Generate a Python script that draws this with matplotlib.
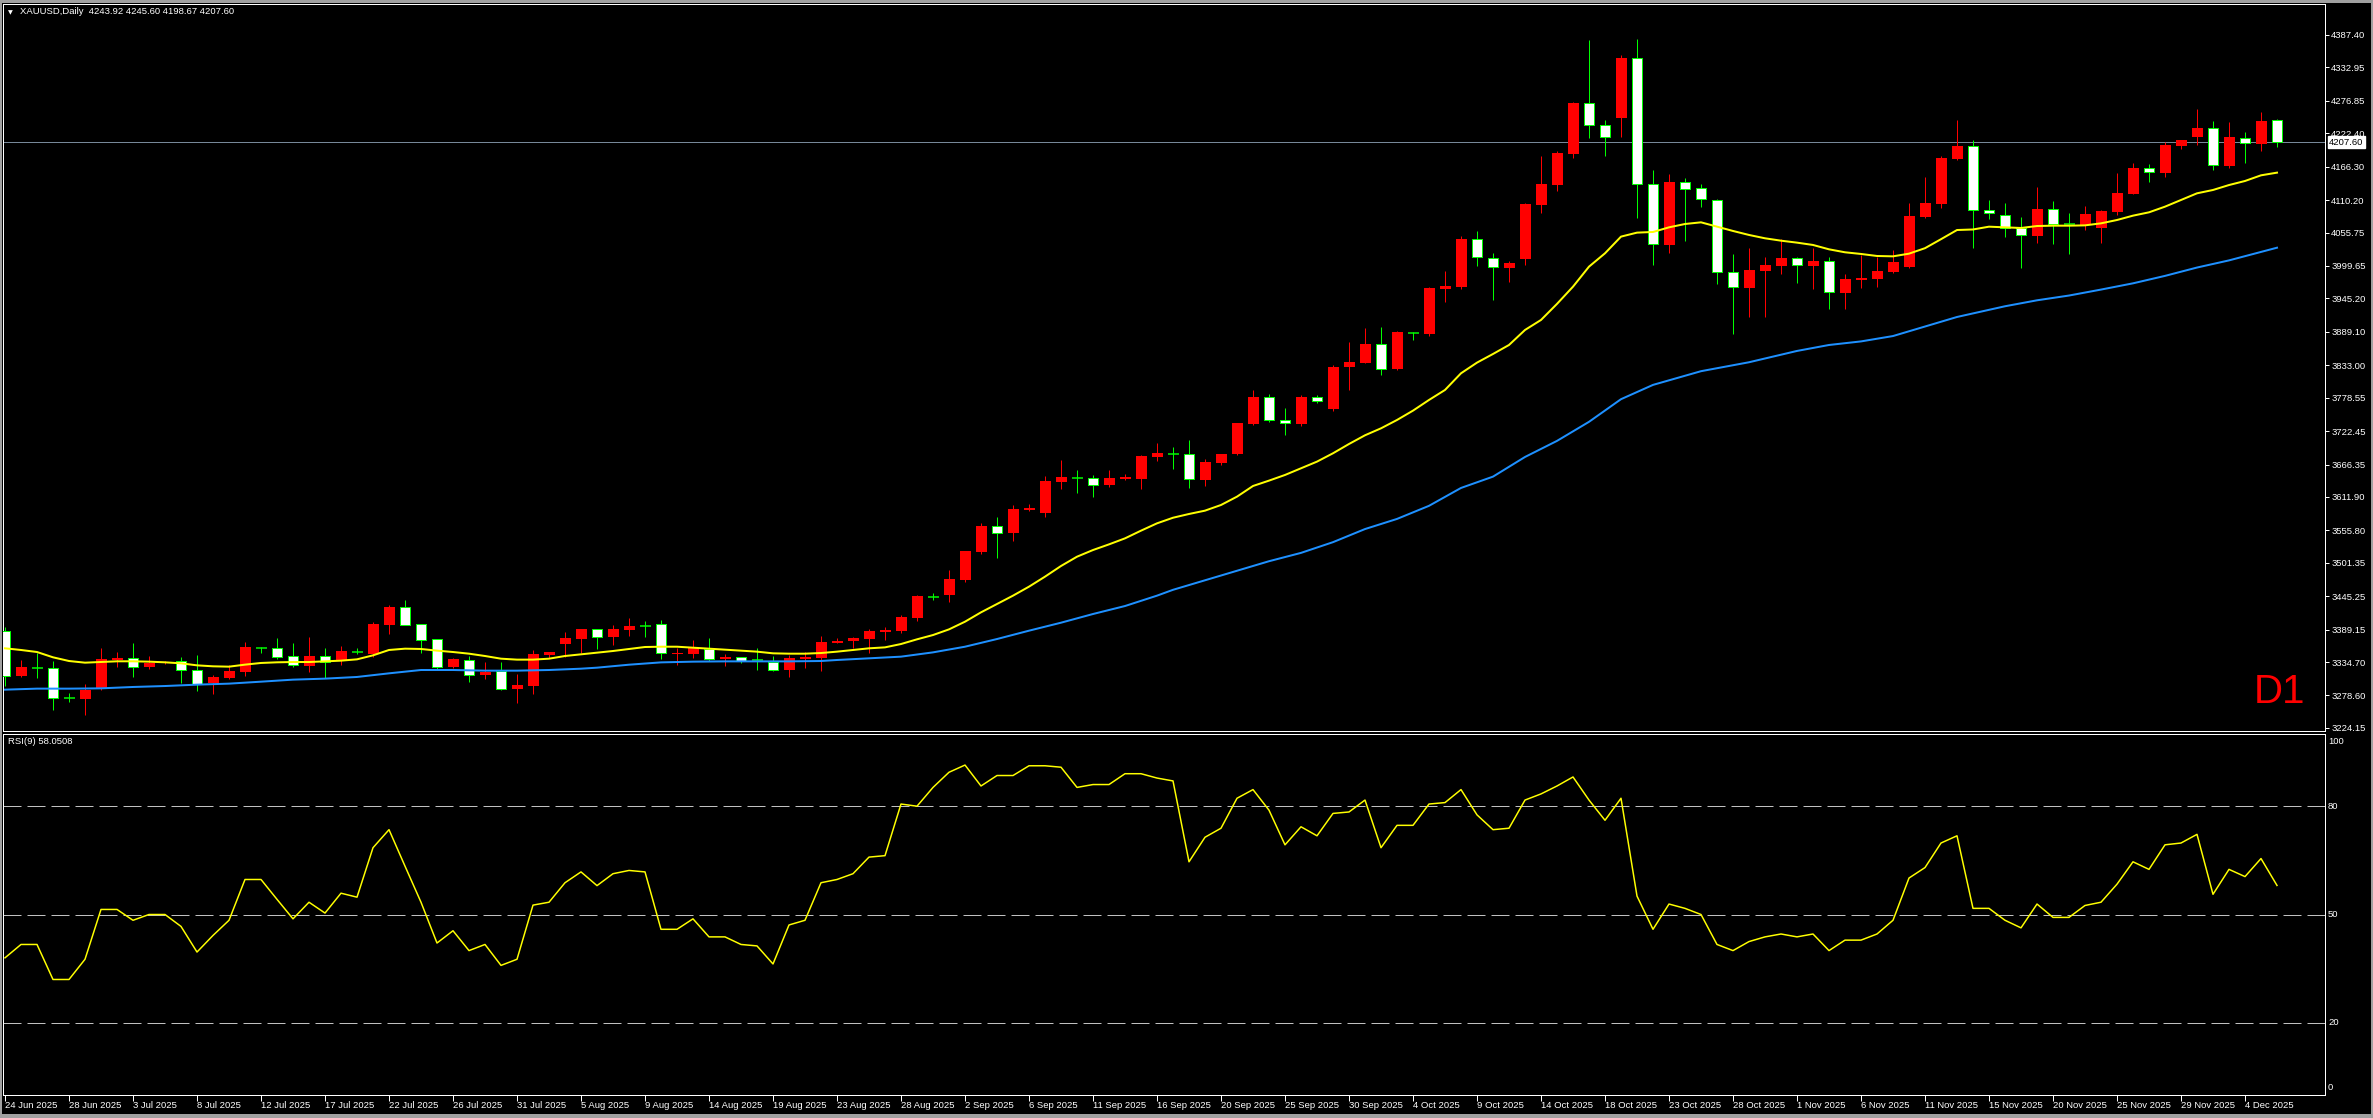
import matplotlib
matplotlib.use("Agg")
import matplotlib.pyplot as plt
from matplotlib.patches import Rectangle

plt.rcParams['font.family'] = ['Liberation Sans', 'DejaVu Sans']
plt.rcParams['lines.scale_dashes'] = False

W, H, DPI = 2373, 1118, 100


def px(v):
    return v * 72.0 / DPI


# ---------------- data ----------------
opens = [3386.9, 3311.9, 3325.3, 3324.2, 3273.8, 3273.3, 3289.0, 3338.8, 3341.0, 3327.0,
         3333.0, 3336.5, 3321.4, 3299.0, 3308.5, 3318.6, 3358.9, 3357.8, 3344.4, 3328.7,
         3344.4, 3336.5, 3352.2, 3348.8, 3397.5, 3427.2, 3398.6, 3372.9, 3325.9, 3337.6,
         3313.0, 3319.7, 3289.5, 3295.1, 3346.6, 3365.6, 3373.5, 3390.2, 3376.8, 3388.5,
         3394.7, 3398.0, 3349.0, 3348.8, 3356.6, 3340.4, 3342.6, 3338.2, 3334.2, 3321.4,
         3340.4, 3342.1, 3367.3, 3370.1, 3373.4, 3385.7, 3386.8, 3408.7, 3444.5, 3447.3,
         3472.5, 3519.5, 3562.6, 3551.4, 3590.0, 3585.0, 3637.0, 3643.7, 3643.1, 3632.0,
         3642.0, 3642.0, 3679.0, 3684.0, 3683.5, 3640.9, 3668.9, 3684.0, 3734.9, 3779.2,
         3740.6, 3734.9, 3779.2, 3760.1, 3829.5, 3837.4, 3868.1, 3826.7, 3887.2, 3886.1,
         3961.6, 3964.4, 4044.4, 4013.6, 3996.9, 4011.4, 4102.6, 4136.0, 4188.2, 4272.7,
         4235.8, 4248.6, 4348.2, 4136.7, 4035.4, 4140.1, 4130.0, 4109.9, 3989.0, 3963.2,
         3991.8, 4000.2, 4012.5, 4000.2, 4007.5, 3954.9, 3976.7, 3978.4, 3990.1, 3997.9,
         4082.4, 4104.3, 4179.2, 4200.5, 4093.0, 4084.6, 4063.9, 4050.5, 4094.7, 4069.5,
         4069.0, 4063.9, 4090.8, 4121.0, 4163.5, 4156.3, 4201.6, 4216.7, 4230.7, 4167.4,
         4215.0, 4204.9, 4243.92]
highs = [3394.2, 3338.2, 3349.4, 3336.5, 3282.2, 3297.9, 3358.3, 3351.6, 3366.7, 3344.9,
         3336.0, 3343.2, 3346.6, 3313.0, 3329.8, 3368.4, 3360.0, 3375.1, 3366.7, 3376.8,
         3358.3, 3362.3, 3358.3, 3402.5, 3431.1, 3438.9, 3399.0, 3373.5, 3341.0, 3344.9,
         3334.8, 3334.8, 3314.7, 3355.0, 3352.0, 3385.2, 3391.0, 3391.0, 3396.9, 3408.7,
         3403.6, 3405.3, 3357.8, 3371.7, 3375.1, 3347.7, 3343.0, 3358.3, 3344.9, 3346.6,
         3351.0, 3378.5, 3375.1, 3377.3, 3390.2, 3393.0, 3413.7, 3447.3, 3450.1, 3489.3,
         3522.0, 3567.6, 3578.2, 3598.4, 3600.1, 3647.1, 3673.9, 3657.1, 3648.7, 3657.1,
         3650.4, 3682.3, 3702.5, 3695.8, 3707.5, 3675.6, 3684.5, 3736.5, 3791.5, 3784.8,
         3761.3, 3783.1, 3783.1, 3833.4, 3872.6, 3895.6, 3897.2, 3890.0, 3888.0, 3964.9,
         3991.3, 4050.0, 4058.4, 4020.9, 4008.0, 4106.0, 4185.0, 4192.0, 4275.5, 4379.0,
         4244.7, 4353.8, 4380.7, 4160.8, 4154.0, 4147.4, 4137.3, 4111.5, 4019.8, 4029.8,
         4014.7, 4044.9, 4014.2, 4030.4, 4014.7, 3986.2, 4018.1, 4015.3, 4026.5, 4106.0,
         4149.3, 4184.3, 4244.7, 4211.2, 4110.4, 4104.8, 4081.8, 4132.2, 4108.7, 4088.5,
         4100.3, 4093.6, 4155.7, 4172.5, 4170.8, 4208.3, 4211.5, 4263.1, 4243.0, 4241.3,
         4224.5, 4258.1, 4245.60]
lows = [3294.5, 3309.1, 3308.5, 3254.3, 3268.2, 3245.9, 3287.8, 3327.0, 3310.2, 3323.1,
        3331.0, 3299.0, 3286.1, 3281.7, 3306.3, 3311.9, 3349.4, 3340.4, 3325.9, 3318.0,
        3307.4, 3329.8, 3348.3, 3343.8, 3382.4, 3397.0, 3350.5, 3323.1, 3325.0, 3301.8,
        3306.3, 3287.8, 3266.6, 3281.7, 3341.6, 3343.8, 3349.4, 3356.7, 3363.4, 3378.5,
        3377.3, 3339.8, 3329.8, 3341.5, 3336.5, 3328.6, 3333.7, 3321.4, 3319.7, 3309.6,
        3324.7, 3319.7, 3367.0, 3358.3, 3350.5, 3371.7, 3382.9, 3403.6, 3438.9, 3435.5,
        3469.1, 3516.1, 3510.0, 3537.9, 3588.3, 3578.2, 3625.2, 3618.5, 3611.8, 3628.6,
        3640.4, 3625.2, 3672.2, 3658.8, 3627.5, 3630.9, 3666.1, 3682.3, 3732.7, 3738.3,
        3715.9, 3731.6, 3769.7, 3756.8, 3792.0, 3837.0, 3817.2, 3825.1, 3876.0, 3882.7,
        3939.8, 3961.0, 3999.6, 3943.1, 3973.3, 4001.9, 4089.2, 4126.1, 4181.5, 4215.0,
        4184.8, 4216.7, 4080.8, 4001.9, 4022.0, 4042.1, 4099.2, 3970.0, 3884.9, 3914.6,
        3914.6, 3986.2, 3971.6, 3961.6, 3928.0, 3928.0, 3963.2, 3964.9, 3988.4, 3996.3,
        4080.2, 4097.6, 4178.1, 4030.4, 4078.5, 4048.8, 3996.8, 4038.7, 4037.0, 4020.3,
        4060.6, 4038.7, 4085.7, 4120.5, 4141.1, 4149.5, 4196.5, 4203.3, 4161.3, 4164.6,
        4173.0, 4193.2, 4198.67]
closes = [3311.9, 3326.4, 3325.3, 3273.8, 3273.8, 3287.8, 3339.9, 3341.6, 3327.0, 3332.6,
          3334.0, 3320.9, 3297.3, 3309.7, 3319.7, 3360.0, 3358.9, 3343.8, 3329.2, 3344.9,
          3335.4, 3353.3, 3352.2, 3398.6, 3427.2, 3397.5, 3372.3, 3327.0, 3339.9, 3313.6,
          3318.6, 3290.1, 3296.2, 3348.8, 3351.6, 3375.1, 3390.2, 3377.4, 3390.2, 3395.2,
          3394.7, 3349.4, 3350.0, 3358.3, 3340.4, 3343.2, 3337.1, 3338.2, 3321.9, 3341.5,
          3343.2, 3368.4, 3370.1, 3375.1, 3386.8, 3388.5, 3410.4, 3445.6, 3444.5, 3474.2,
          3521.2, 3563.1, 3551.9, 3591.7, 3593.3, 3638.7, 3645.4, 3643.7, 3632.5, 3643.7,
          3645.4, 3680.6, 3685.7, 3684.0, 3641.5, 3670.6, 3684.0, 3736.1, 3779.7, 3740.6,
          3735.5, 3779.7, 3772.4, 3830.1, 3838.5, 3868.7, 3826.2, 3888.9, 3887.2, 3962.7,
          3966.1, 4045.0, 4014.2, 3997.4, 4004.1, 4103.7, 4137.3, 4188.8, 4273.3, 4235.8,
          4215.6, 4348.8, 4136.7, 4036.0, 4140.6, 4128.3, 4111.5, 3989.0, 3963.8, 3992.9,
          4001.3, 4013.1, 4000.7, 4008.0, 3955.4, 3977.8, 3979.5, 3991.2, 4006.4, 4083.6,
          4105.1, 4180.9, 4201.1, 4093.0, 4089.1, 4062.8, 4051.1, 4095.3, 4069.5, 4069.5,
          4086.9, 4091.9, 4122.1, 4164.1, 4156.8, 4202.7, 4211.1, 4230.7, 4168.6, 4216.1,
          4205.5, 4243.0, 4207.60]

ma_fast = [3357.8, 3355.0, 3351.6, 3342.7, 3336.5, 3333.7, 3334.8, 3336.0, 3336.0, 3335.4,
           3334.3, 3332.6, 3329.2, 3327.6, 3327.0, 3330.4, 3333.2, 3334.3, 3334.8, 3334.8,
           3336.0, 3337.1, 3339.3, 3346.0, 3355.0, 3357.2, 3356.7, 3353.9, 3351.6, 3348.8,
           3344.9, 3340.4, 3338.8, 3338.8, 3340.4, 3344.9, 3347.7, 3350.5,
           3353.3, 3356.6, 3360.0, 3360.5, 3360.5, 3358.9, 3357.2, 3355.5, 3353.8, 3352.2,
           3349.4, 3348.8, 3348.8, 3349.9, 3352.2, 3355.0, 3357.8, 3359.4, 3365.0, 3372.9,
           3380.1, 3389.6, 3402.5, 3418.2, 3432.2, 3446.2, 3461.3, 3478.1, 3496.0, 3511.6,
           3522.8, 3532.3, 3542.4, 3555.3, 3567.6, 3577.0,
           3583.3, 3588.9, 3598.4, 3612.4, 3630.3, 3639.3, 3648.8, 3660.0, 3671.2, 3685.2,
           3700.8, 3715.4, 3727.1, 3741.1, 3756.8, 3774.7, 3791.5, 3819.5, 3837.4, 3851.9,
           3867.0, 3892.2, 3909.0, 3936.0,
           3964.9, 3998.5, 4020.9, 4048.9, 4055.6, 4056.7, 4064.5, 4070.1, 4072.9, 4065.7,
           4058.4, 4051.7, 4046.1, 4042.1, 4038.8, 4034.9, 4027.6, 4022.6, 4019.8, 4016.4,
           4015.8, 4020.3, 4029.5, 4044.6, 4060.0, 4060.9,
           4065.6, 4064.5, 4063.4, 4066.7, 4067.3, 4067.3, 4067.8, 4071.2, 4076.8, 4084.1,
           4089.7, 4099.2, 4110.4, 4121.6, 4127.2, 4135.5, 4142.3, 4151.8, 4156.3]

ma_slow_bar = [0, 2, 4, 6, 8, 10, 12, 14, 16, 18, 20, 22, 24, 26, 28, 30, 32, 34, 36, 37,
               39, 41, 43, 45, 47, 49, 51, 52, 54, 56, 58, 60, 62, 64, 66, 68, 70, 72, 73,
               79, 81, 83, 85, 87, 89, 91, 93, 95, 97, 99, 101, 103, 106, 109, 112, 114,
               116, 118, 120, 122, 125, 127, 129, 131, 133, 135, 137, 139, 142]
ma_slow_val = [3288.4, 3290.1, 3290.1, 3290.6, 3292.9, 3294.5, 3296.8, 3298.5, 3301.8,
               3305.2, 3306.9, 3309.7, 3315.8, 3321.4, 3321.4, 3320.3, 3320.3, 3321.4,
               3323.6, 3325.3, 3330.3, 3334.2, 3335.4, 3335.9, 3335.9, 3335.9, 3336.5,
               3338.2, 3341.0, 3343.8, 3351.0, 3360.5, 3373.4, 3387.4, 3400.8, 3415.4,
               3428.8, 3446.2, 3456.0, 3504.0, 3518.0, 3536.0, 3558.0, 3575.0, 3597.0,
               3627.0, 3646.0, 3679.0, 3706.0, 3738.0, 3776.0, 3800.0, 3823.0, 3838.0,
               3857.0, 3867.0, 3873.0, 3882.0, 3898.0, 3914.0, 3932.0, 3942.0, 3950.0,
               3960.0, 3970.5, 3983.0, 3997.0, 4009.0, 4030.3]

rsi = [38.0, 41.7, 41.7, 32.0, 32.0, 37.6, 51.4, 51.4, 48.4, 50.0,
       50.0, 46.7, 39.6, 44.2, 48.4, 59.7, 59.7, 54.2, 48.8, 53.4,
       50.4, 55.9, 54.8, 68.5, 73.5, 63.4, 53.4, 42.1, 45.5, 40.0,
       41.7, 35.9, 37.6, 52.6, 53.4, 58.8, 61.8, 58.0, 61.3, 62.2,
       61.8, 45.9, 45.9, 48.8, 43.8, 43.8, 41.7, 41.3, 36.3, 47.1,
       48.4, 58.8, 59.7, 61.3, 65.9, 66.3, 80.6, 80.0, 85.2, 89.4,
       91.4, 85.6, 88.5, 88.5, 91.2, 91.2, 90.8, 85.2, 86.0, 86.0,
       89.0, 89.0, 87.8, 87.0, 64.6, 71.4, 73.9, 82.2, 84.6, 78.9,
       69.3, 74.3, 71.8, 78.0, 78.4, 81.7, 68.5, 74.7, 74.7, 80.6,
       81.0, 84.6, 77.6, 73.5, 73.9, 81.7, 83.4, 85.6, 88.1, 81.7,
       76.1, 82.2, 55.1, 45.9, 52.9, 51.7, 50.0, 41.7, 40.0, 42.5,
       43.8, 44.6, 43.8, 44.6, 40.0, 42.9, 42.9, 44.6, 48.4, 60.1,
       63.0, 69.8, 71.8, 51.7, 51.7, 48.4, 46.3, 52.9, 49.2, 49.2,
       52.5, 53.4, 58.4, 64.6, 62.5, 69.3, 69.8, 72.2, 55.6, 62.5,
       60.5, 65.5, 58.05]

price_ticks = [4387.40, 4332.95, 4276.85, 4222.40, 4166.30, 4110.20, 4055.75, 3999.65,
               3945.20, 3889.10, 3833.00, 3778.55, 3722.45, 3666.35, 3611.90, 3555.80,
               3501.35, 3445.25, 3389.15, 3334.70, 3278.60, 3224.15]
rsi_levels = [80, 50, 20]
rsi_labels = ["100", "80", "50", "20", "0"]
date_labels = ["24 Jun 2025", "28 Jun 2025", "3 Jul 2025", "8 Jul 2025", "12 Jul 2025",
               "17 Jul 2025", "22 Jul 2025", "26 Jul 2025", "31 Jul 2025", "5 Aug 2025",
               "9 Aug 2025", "14 Aug 2025", "19 Aug 2025", "23 Aug 2025", "28 Aug 2025",
               "2 Sep 2025", "6 Sep 2025", "11 Sep 2025", "16 Sep 2025", "20 Sep 2025",
               "25 Sep 2025", "30 Sep 2025", "4 Oct 2025", "9 Oct 2025", "14 Oct 2025",
               "18 Oct 2025", "23 Oct 2025", "28 Oct 2025", "1 Nov 2025", "6 Nov 2025",
               "11 Nov 2025", "15 Nov 2025", "20 Nov 2025", "25 Nov 2025", "29 Nov 2025",
               "4 Dec 2025"]
bars_per_label = 4
header = "XAUUSD,Daily  4243.92 4245.60 4198.67 4207.60"
rsi_header = "RSI(9) 58.0508"
last_price = 4207.60

# ---------------- colours ----------------
BULL = '#ff0000'
BEAR_EDGE = '#00ff00'
BEAR_FILL = '#ffffff'
FG = '#ffffff'
SMALL = 6.8

fig = plt.figure(figsize=(W / DPI, H / DPI), dpi=DPI, facecolor='black')


def axes_px(x0, y0, x1, y1):
    return fig.add_axes([x0 / W, 1 - y1 / H, (x1 - x0) / W, (y1 - y0) / H])


ax = axes_px(3, 4, 2325, 731)
rax = axes_px(3, 734, 2325, 1095)
n = len(closes)
for a in (ax, rax):
    a.set_facecolor('black')
    for s in a.spines.values():
        s.set_color(FG)
        s.set_linewidth(px(1))
    a.set_xlim(-0.125, 145.0)

ax.set_ylim(3219.0, 4439.4)
rax.set_ylim(0, 100)

# current price line
ax.axhline(last_price, color='#778899', lw=px(1), zorder=1)

# candles
bw = 11 / 16.0
for i in range(n):
    o, h, l, c = opens[i], highs[i], lows[i], closes[i]
    if c > o:
        ax.vlines(i, l, h, color=BULL, lw=px(1), zorder=2)
        ax.bar(i, max(c - o, 1.0), bottom=o, width=bw, color=BULL, linewidth=0, zorder=3)
    elif c < o:
        ax.vlines(i, l, h, color=BEAR_EDGE, lw=px(1), zorder=2)
        ax.bar(i, o - c, bottom=c, width=bw - 1 / 16.0, facecolor=BEAR_FILL,
               edgecolor=BEAR_EDGE, linewidth=px(1), zorder=3)
    else:
        ax.vlines(i, l, h, color=BEAR_EDGE, lw=px(1), zorder=2)
        ax.hlines(o, i - bw / 2, i + bw / 2, color=BEAR_EDGE, lw=px(1.5), zorder=3)

# moving averages
ax.plot(range(n), ma_fast, color='#ffff00', lw=px(2), zorder=4)
ax.plot(ma_slow_bar, ma_slow_val, color='#1e90ff', lw=px(2), zorder=4)

# right price axis
ax.yaxis.tick_right()
ax.set_yticks(price_ticks)
ax.set_yticklabels([f"{v:.2f}" for v in price_ticks])
ax.tick_params(axis='y', colors=FG, length=3, width=px(1), pad=1.5, labelsize=SMALL,
               direction='out')
ax.set_xticks([])

# current price box
ax.annotate(f"{last_price:.2f}", xy=(1.0, last_price), xycoords=('axes fraction', 'data'),
            xytext=(px(4), 0), textcoords='offset points', ha='left', va='center',
            fontsize=SMALL, color='black',
            bbox=dict(boxstyle='square,pad=0.15', facecolor='white', edgecolor='white'),
            zorder=10, annotation_clip=False)

# D1 label
ax.annotate("D1", xy=(1.0, 0.0), xycoords='axes fraction', xytext=(-px(20), px(28)),
            textcoords='offset points', ha='right', va='baseline', fontsize=29,
            color='#ff0000')

# header
fig.text(8 / W, 1 - 12.5 / H, "\u25bc", fontsize=4.5, color=FG, va='center', ha='left',
         family='DejaVu Sans')
fig.text(20 / W, 1 - 12 / H, header, fontsize=SMALL, color=FG, va='center', ha='left')

# RSI panel
for lv in rsi_levels:
    rax.axhline(lv, color='#c0c0c0', lw=px(1), dashes=(px(18), px(6)), zorder=1)
rax.plot(range(n), rsi, color='#ffff00', lw=px(1.5), zorder=3)
rax.set_yticks([])
rsi_label_pos = [98.0, 80, 50, 20, 2.0]
for lab, pos in zip(rsi_labels, rsi_label_pos):
    rax.annotate(lab, xy=(1.0, pos), xycoords=('axes fraction', 'data'),
                 xytext=(px(3), 0), textcoords='offset points', ha='left', va='center',
                 fontsize=SMALL, color=FG, annotation_clip=False)
rax.annotate(rsi_header, xy=(0, 1), xycoords='axes fraction', xytext=(px(5), -px(7)),
             textcoords='offset points', ha='left', va='center', fontsize=SMALL, color=FG)

# date axis
tick_bars = [k * bars_per_label for k in range(len(date_labels))]
rax.set_xticks(tick_bars)
rax.set_xticklabels([])
rax.tick_params(axis='x', colors=FG, length=4, width=px(1), direction='out')
for b, lab in zip(tick_bars, date_labels):
    rax.annotate(lab, xy=(b, 0), xycoords=('data', 'axes fraction'),
                 xytext=(px(0), -px(10)), textcoords='offset points', ha='left',
                 va='center', fontsize=SMALL, color=FG, annotation_clip=False)

# window frame
frame = '#a0a0a0'
for (x0, y0, w, h) in [(0, 0, W, 3), (0, H - 4, W, 4), (0, 0, 2, H), (W - 2, 0, 2, H)]:
    fig.patches.append(Rectangle((x0 / W, 1 - (y0 + h) / H), w / W, h / H,
                                 transform=fig.transFigure, facecolor=frame,
                                 edgecolor='none', zorder=20))

fig.savefig("out.png", dpi=DPI, facecolor='black')
